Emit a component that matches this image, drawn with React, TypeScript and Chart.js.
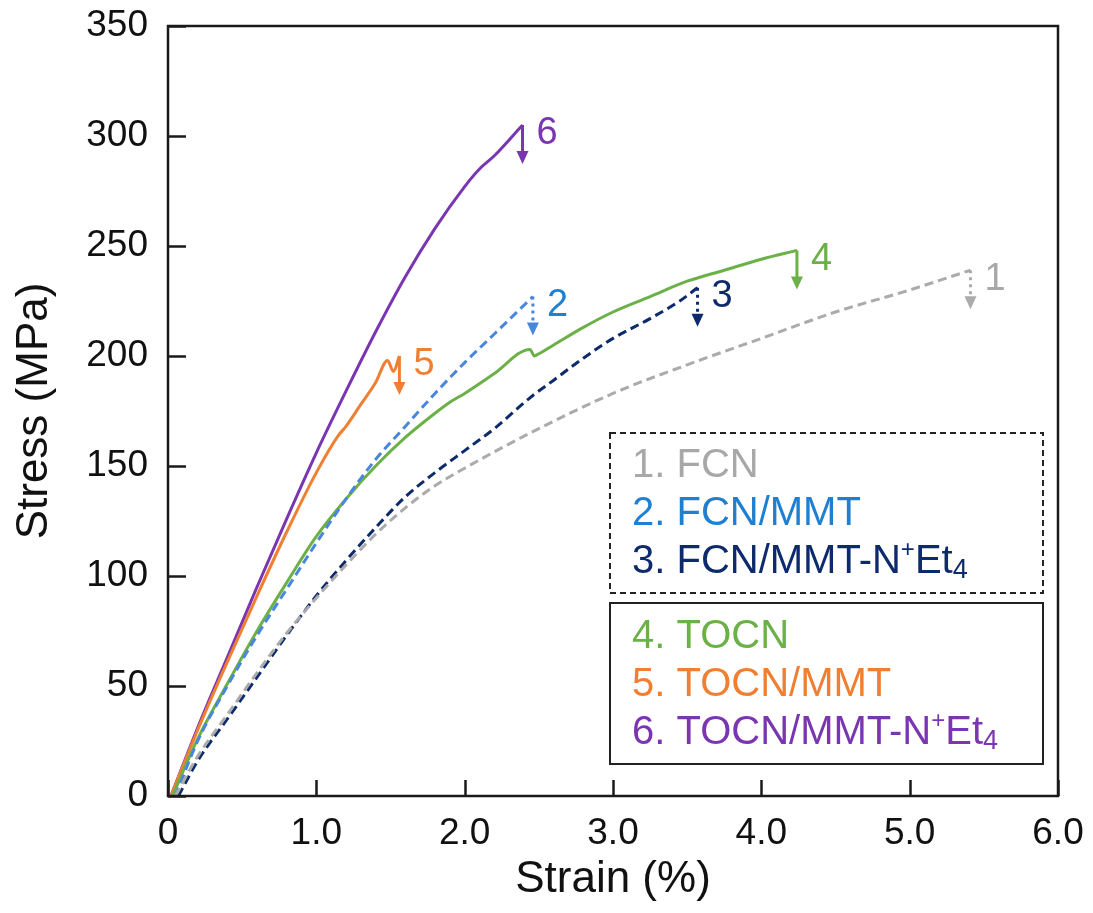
import React, { useEffect, useRef } from "react";
import { Chart, registerables } from "chart.js";
Chart.register(...registerables);

const FONT = '"Liberation Sans", Arial, Helvetica, sans-serif';

// ---- data ----
const seriesNames = ["FCN", "FCN/MMT", "FCN/MMT-N⁺Et₄", "TOCN", "TOCN/MMT", "TOCN/MMT-N⁺Et₄"];
const lineColors = ["#ababab", "#4a86dc", "#0d2a6c", "#6cb048", "#f07f32", "#7a35b0"];
const textColors = ["#a8a8a8", "#1f80d2", "#0d2a6c", "#6cb048", "#f07f32", "#7a35b0"];
const dashedSeries = [true, true, true, false, false, false];

const fcnStrain = [0.05, 0.2, 0.4, 0.6, 0.8, 1.0, 1.2, 1.4, 1.6, 1.8, 2.0, 2.5, 3.0, 3.5, 4.0, 4.5, 5.0, 5.41];
const fcnStress = [0, 18, 37, 56, 74, 90, 105, 119, 131, 141, 149, 167, 183, 196, 208, 220, 230, 239];

const fcnMmtStrain = [0.05, 0.2, 0.4, 0.6, 0.8, 1.0, 1.2, 1.4, 1.6, 1.8, 2.0, 2.2, 2.46];
const fcnMmtStress = [0, 25, 50, 73, 94, 115, 135, 153, 168, 183, 197, 210, 227];

const fcnMmtNStrain = [0.07, 0.2, 0.4, 0.6, 0.8, 1.0, 1.2, 1.4, 1.6, 1.8, 2.0, 2.2, 2.44, 2.6, 2.8, 3.0, 3.25, 3.45, 3.57];
const fcnMmtNStress = [0, 16, 35, 54, 73, 91, 107, 122, 136, 147, 157, 167, 181, 189, 199, 208, 217, 225, 231];

const tocnStrain = [0.03, 0.2, 0.4, 0.6, 0.8, 1.0, 1.2, 1.4, 1.6, 1.8, 1.9, 2.0, 2.2, 2.44, 2.47, 2.5, 2.6, 2.8, 3.0, 3.25, 3.5, 3.75, 4.0, 4.24];
const tocnStress = [0, 26, 51, 75, 97, 118, 135, 150, 163, 174, 179, 183, 192, 203, 200, 201, 205, 213, 220, 227, 234, 239, 244, 248];

const tocnMmtStrain = [0.02, 0.2, 0.4, 0.6, 0.8, 1.0, 1.15, 1.2, 1.3, 1.4, 1.48, 1.52, 1.56];
const tocnMmtStress = [0, 30, 61, 91, 120, 147, 164, 168, 178, 188, 198, 193, 200];

const tocnMmtNStrain = [0.02, 0.2, 0.4, 0.6, 0.8, 1.0, 1.2, 1.4, 1.6, 1.8, 2.0, 2.1, 2.2, 2.39];
const tocnMmtNStress = [0, 31, 63, 95, 126, 156, 184, 211, 236, 258, 277, 285, 291, 305];

const strains = [fcnStrain, fcnMmtStrain, fcnMmtNStrain, tocnStrain, tocnMmtStrain, tocnMmtNStrain];
const stresses = [fcnStress, fcnMmtStress, fcnMmtNStress, tocnStress, tocnMmtStress, tocnMmtNStress];

const xMin = 0, xMax = 6, xStep = 1;
const yMin = 0, yMax = 350, yStep = 50;
const xTitle = "Strain (%)";
const yTitle = "Stress (MPa)";

function drawRich(ctx: CanvasRenderingContext2D, text: string, x: number, y: number, size: number) {
  let cx = x;
  let buf = "";
  const flush = () => {
    if (!buf) return;
    ctx.font = `${size}px ${FONT}`;
    ctx.fillText(buf, cx, y);
    cx += ctx.measureText(buf).width;
    buf = "";
  };
  for (const ch of text) {
    if (ch === "⁺") {
      flush();
      ctx.font = `${Math.round(size * 0.6)}px ${FONT}`;
      ctx.fillText("+", cx, y - size * 0.3);
      cx += ctx.measureText("+").width;
    } else if (ch === "₄") {
      flush();
      ctx.font = `${Math.round(size * 0.68)}px ${FONT}`;
      ctx.fillText("4", cx, y + size * 0.22);
      cx += ctx.measureText("4").width;
    } else {
      buf += ch;
    }
  }
  flush();
}

const decorPlugin = {
  id: "decor",
  afterDatasetsDraw(chart: any) {
    const { ctx, scales } = chart;
    const xs = scales.x, ys = scales.y;
    ctx.save();
    strains.forEach((sx, i) => {
      const lx = sx[sx.length - 1];
      const ly = stresses[i][stresses[i].length - 1];
      const px = xs.getPixelForValue(lx);
      const py = ys.getPixelForValue(ly);
      const col = lineColors[i];
      ctx.strokeStyle = col;
      ctx.fillStyle = col;
      ctx.lineWidth = 3;
      ctx.setLineDash(dashedSeries[i] ? [3, 4] : []);
      ctx.beginPath();
      ctx.moveTo(px, py);
      ctx.lineTo(px, py + 28);
      ctx.stroke();
      ctx.setLineDash([]);
      ctx.beginPath();
      ctx.moveTo(px - 6, py + 26);
      ctx.lineTo(px + 6, py + 26);
      ctx.lineTo(px, py + 39);
      ctx.closePath();
      ctx.fill();
      ctx.fillStyle = textColors[i];
      ctx.font = `38px ${FONT}`;
      ctx.textAlign = "left";
      ctx.textBaseline = "middle";
      ctx.fillText(String(i + 1), px + 14, py + 9);
    });
    ctx.restore();
  },
  afterDraw(chart: any) {
    const { ctx, chartArea, scales } = chart;
    const { left, right, top, bottom } = chartArea;
    ctx.save();
    ctx.strokeStyle = "#1a1a1a";
    ctx.lineWidth = 2.5;
    ctx.setLineDash([]);
    ctx.strokeRect(left, top, right - left, bottom - top);
    scales.y.ticks.forEach((t: any) => {
      const p = Math.round(scales.y.getPixelForValue(t.value)) + 0.5;
      ctx.beginPath();
      ctx.moveTo(left, p);
      ctx.lineTo(left + 18, p);
      ctx.stroke();
    });
    scales.x.ticks.forEach((t: any) => {
      const p = Math.round(scales.x.getPixelForValue(t.value)) + 0.5;
      ctx.beginPath();
      ctx.moveTo(p, bottom);
      ctx.lineTo(p, bottom - 16);
      ctx.stroke();
    });
    const bx = right - 448;
    const bw = 433;
    ctx.lineWidth = 2;
    ctx.strokeStyle = "#222";
    ctx.setLineDash([6, 4]);
    ctx.strokeRect(bx, 433, bw, 160);
    ctx.setLineDash([]);
    ctx.strokeRect(bx, 603, bw, 161);
    ctx.textAlign = "left";
    ctx.textBaseline = "middle";
    const rowsY = [466, 514, 562, 637, 685, 733];
    seriesNames.forEach((name, i) => {
      ctx.fillStyle = textColors[i];
      drawRich(ctx, `${i + 1}. ${name}`, bx + 22, rowsY[i], 40);
    });
    ctx.restore();
  },
};

export default function App() {
  const ref = useRef<HTMLCanvasElement | null>(null);
  useEffect(() => {
    if (!ref.current) return;
    const datasets = strains.map((sx, i) => ({
      label: seriesNames[i],
      data: sx.map((x, j) => ({ x, y: stresses[i][j] })),
      borderColor: lineColors[i],
      backgroundColor: lineColors[i],
      borderWidth: 3,
      borderDash: dashedSeries[i] ? [9, 5] : [],
      pointRadius: 0,
      showLine: true,
      fill: false,
      cubicInterpolationMode: "monotone" as const,
    }));
    const chart = new Chart(ref.current, {
      type: "scatter",
      data: { datasets },
      options: {
        animation: false,
        responsive: false,
        devicePixelRatio: 1,
        layout: { padding: { top: 26, right: 35, left: 0, bottom: 0 } },
        plugins: { legend: { display: false }, tooltip: { enabled: false } },
        scales: {
          x: {
            type: "linear",
            min: xMin,
            max: xMax,
            grid: { display: false, drawTicks: false },
            border: { display: false },
            ticks: {
              stepSize: xStep,
              padding: 16,
              maxRotation: 0,
              color: "#111",
              font: { family: FONT, size: 37 },
              callback: (v: any) => (v === 0 ? "0" : Number(v).toFixed(1)),
            },
            title: {
              display: true,
              text: xTitle,
              color: "#111",
              font: { family: FONT, size: 44 },
              padding: { top: 0, bottom: 7 },
            },
            afterFit: (s: any) => {
              s.height = 117;
              s.paddingLeft = 0;
              s.paddingRight = 0;
            },
          },
          y: {
            type: "linear",
            min: yMin,
            max: yMax,
            grid: { display: false, drawTicks: false },
            border: { display: false },
            ticks: {
              stepSize: yStep,
              padding: 20,
              color: "#111",
              font: { family: FONT, size: 37 },
            },
            title: {
              display: true,
              text: yTitle,
              color: "#111",
              font: { family: FONT, size: 44 },
              padding: { top: 8, bottom: 0 },
            },
            afterFit: (s: any) => {
              s.width = 168;
              s.paddingTop = 0;
              s.paddingBottom = 0;
            },
          },
        },
      },
      plugins: [decorPlugin],
    });
    return () => chart.destroy();
  }, []);
  return (
    <div style={{ position: "absolute", left: 0, top: 0, width: 1093, height: 913, background: "#fff" }}>
      <canvas ref={ref} width={1093} height={913} />
    </div>
  );
}
